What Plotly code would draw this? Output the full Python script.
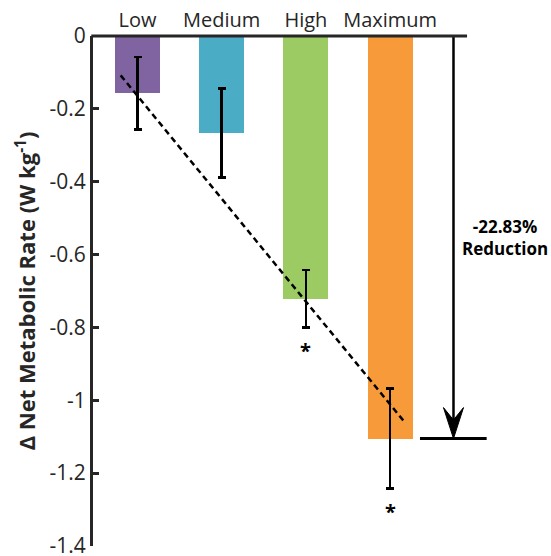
import plotly.graph_objects as go

# ---- data ----
categories = ["Low", "Medium", "High", "Maximum"]
values = [-0.157, -0.266, -0.721, -1.105]
errors = [0.100, 0.122, 0.079, 0.137]
colors = ["#8064A2", "#4BACC6", "#9BCB62", "#F79A3A"]
significant = [False, False, True, True]
trend_x = [-0.2, 3.18]
trend_y = [-0.108, -1.062]
y_ticks = [0, -0.2, -0.4, -0.6, -0.8, -1.0, -1.2, -1.4]
y_tick_labels = ["0", "-0.2", "-0.4", "-0.6", "-0.8", "-1", "-1.2", "-1.4"]
reduction_text = "-22.83%<br>Reduction"
reduction_value = values[-1]

xpos = list(range(len(categories)))
AX = "#262626"
FONT = "Open Sans"

fig = go.Figure()
fig.add_trace(go.Bar(
    x=xpos, y=values, width=0.535,
    marker=dict(color=colors, line=dict(width=0)),
    error_y=dict(type="data", array=errors, thickness=2.5, width=4, color="black"),
    showlegend=False, hoverinfo="skip",
))
fig.add_trace(go.Scatter(
    x=trend_x, y=trend_y, mode="lines",
    line=dict(color="black", width=2.5, dash="6px,4px"),
    showlegend=False, hoverinfo="skip",
))

# significance asterisks
for xi, v, e, s in zip(xpos, values, errors, significant):
    if s:
        fig.add_annotation(x=xi, y=v - e, text="<b>*</b>", showarrow=False,
                           yanchor="top", yshift=-8,
                           font=dict(family=FONT, size=20, color="black"))

# reduction arrow
arrow_x = 3.753
head_len = 0.085
head_half = 0.119
fig.add_shape(type="line", xref="x", yref="y", x0=arrow_x, x1=arrow_x,
              y0=0, y1=reduction_value + head_len * 0.6,
              line=dict(color="black", width=2.5))
fig.add_shape(type="path", xref="x", yref="y",
              path=(f"M {arrow_x},{reduction_value} "
                    f"L {arrow_x - head_half},{reduction_value + head_len} "
                    f"L {arrow_x},{reduction_value + head_len * 0.6} "
                    f"L {arrow_x + head_half},{reduction_value + head_len} Z"),
              fillcolor="black", line=dict(color="black", width=1))
fig.add_shape(type="line", xref="x", yref="y", x0=3.355, x1=4.147,
              y0=reduction_value, y1=reduction_value,
              line=dict(color="black", width=3))
fig.add_annotation(x=4.365, y=-0.552, text=f"<b>{reduction_text}</b>",
                   showarrow=False, align="center",
                   font=dict(family=FONT, size=17, color="black"))

# top frame line
fig.add_shape(type="line", xref="paper", yref="paper", x0=-0.004, x1=0.876,
              y0=1, y1=1, line=dict(color=AX, width=3))

fig.update_layout(
    width=551, height=556,
    margin=dict(l=93, r=31, t=36, b=10, autoexpand=False),
    plot_bgcolor="white", paper_bgcolor="white",
    bargap=0,
    xaxis=dict(range=[-0.5285, 4.543], tickvals=xpos, ticktext=categories,
               side="top", showline=False, showgrid=False, zeroline=False,
               automargin=False, ticklabelstandoff=4,
               ticks="", tickfont=dict(family=FONT, size=20, color=AX)),
    yaxis=dict(range=[-1.4, 0], tickvals=y_ticks, ticktext=y_tick_labels,
               showline=True, linewidth=3, linecolor=AX,
               ticks="inside", ticklen=6, tickwidth=3, tickcolor=AX,
               showgrid=False, zeroline=False, automargin=False,
               ticklabeloverflow="allow",
               tickfont=dict(family=FONT, size=21, color=AX),
               title=dict(text="<b>\u0394 Net Metabolic Rate (W kg<sup>-1</sup>)</b>",
                          font=dict(family=FONT, size=22, color=AX), standoff=8)),
)

fig.write_html("out.html", config={"displayModeBar": False},
               post_script="document.body.style.margin='0';document.body.style.overflow='hidden';")
